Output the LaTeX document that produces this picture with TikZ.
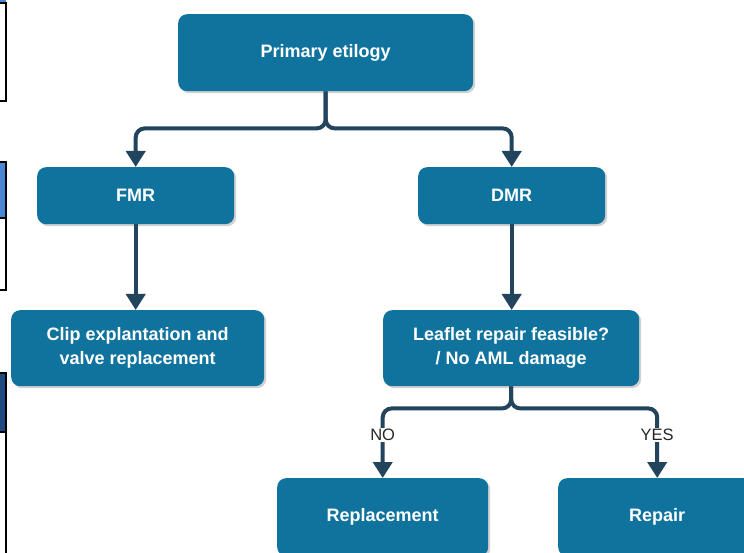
\documentclass[tikz,border=0pt]{standalone}
\usepackage{fontspec}
\setmainfont{Liberation Sans}
\usetikzlibrary{arrows.meta,shadows}

\definecolor{boxblue}{HTML}{10739E}
\definecolor{linenavy}{HTML}{23445D}
\definecolor{tabblue}{HTML}{4A86D2}
\definecolor{tabdark}{HTML}{1F4A80}

\tikzset{
  flowbox/.style={anchor=north west, fill=boxblue, rounded corners=9pt, text=white,
    align=center, inner sep=2pt, font=\bfseries\fontsize{18}{24}\selectfont,
    drop shadow={shadow xshift=2pt, shadow yshift=-2pt, opacity=.3, fill=black!60}},
  conn/.style={draw=linenavy, line width=4pt, rounded corners=9pt,
    -{Triangle[width=19pt,length=16pt]}},
  answer/.style={fill=white, inner sep=1.5pt, font=\fontsize{16.5}{18}\selectfont, text=black!85}
}

\begin{document}
\begin{tikzpicture}[x=1pt,y=-1pt]
        \useasboundingbox (0,0) rectangle (744,553);
        \clip (0,0) rectangle (744,553);

        %Cut Tables at left edge
        \fill [tabblue] (-10,-5) rectangle (6,3);
        \draw [line width=1.2pt, fill=white] (-10,3) rectangle (6,101);
        \draw [line width=1.2pt, fill=white] (-10,162) rectangle (6,290);
        \draw [line width=1.2pt, fill=tabblue] (-10,162) rectangle (6,218);
        \draw [line width=1.2pt, fill=white] (-10,373) rectangle (6,570);
        \draw [line width=1.2pt, fill=tabdark] (-10,373) rectangle (6,432);

        % Text Node
        \node [flowbox, minimum width=295pt, minimum height=77pt] (prim) at (178,14) {Primary etilogy};
        % Text Node
        \node [flowbox, minimum width=197pt, minimum height=57pt] (fmr) at (37,167) {FMR};
        % Text Node
        \node [flowbox, minimum width=187pt, minimum height=57pt] (dmr) at (418,167) {DMR};
        % Text Node
        \node [flowbox, minimum width=253pt, minimum height=76pt] (clip) at (11,310) {Clip explantation and\\valve replacement};
        % Text Node
        \node [flowbox, minimum width=256pt, minimum height=76pt] (leaf) at (383,310) {Leaflet repair feasible?\\/ No AML damage};
        % Text Node
        \node [flowbox, minimum width=211pt, minimum height=78pt] (repl) at (277,478) {Replacement};
        % Text Node
        \node [flowbox, minimum width=198pt, minimum height=78pt] (rep) at (558,478) {Repair};

        %Elbow Lines
        \draw [conn] (prim.south) -- ++(0,37) -| (fmr.north);
        \draw [conn] (prim.south) -- ++(0,37) -| (dmr.north);
        %Straight Lines
        \draw [conn] (fmr.south) -- (fmr.south |- clip.north);
        \draw [conn] (dmr.south) -- (dmr.south |- leaf.north);
        %Elbow Lines
        \draw [conn] (leaf.south) -- ++(0,22) -| (repl.north);
        \draw [conn] (leaf.south) -- ++(0,22) -| (rep.north);

        % Text Node
        \node [answer] (no) at (repl.north |- 0,435) {NO};
        \node [answer] (yes) at (rep.north |- 0,435) {YES};
\end{tikzpicture}
\end{document}
